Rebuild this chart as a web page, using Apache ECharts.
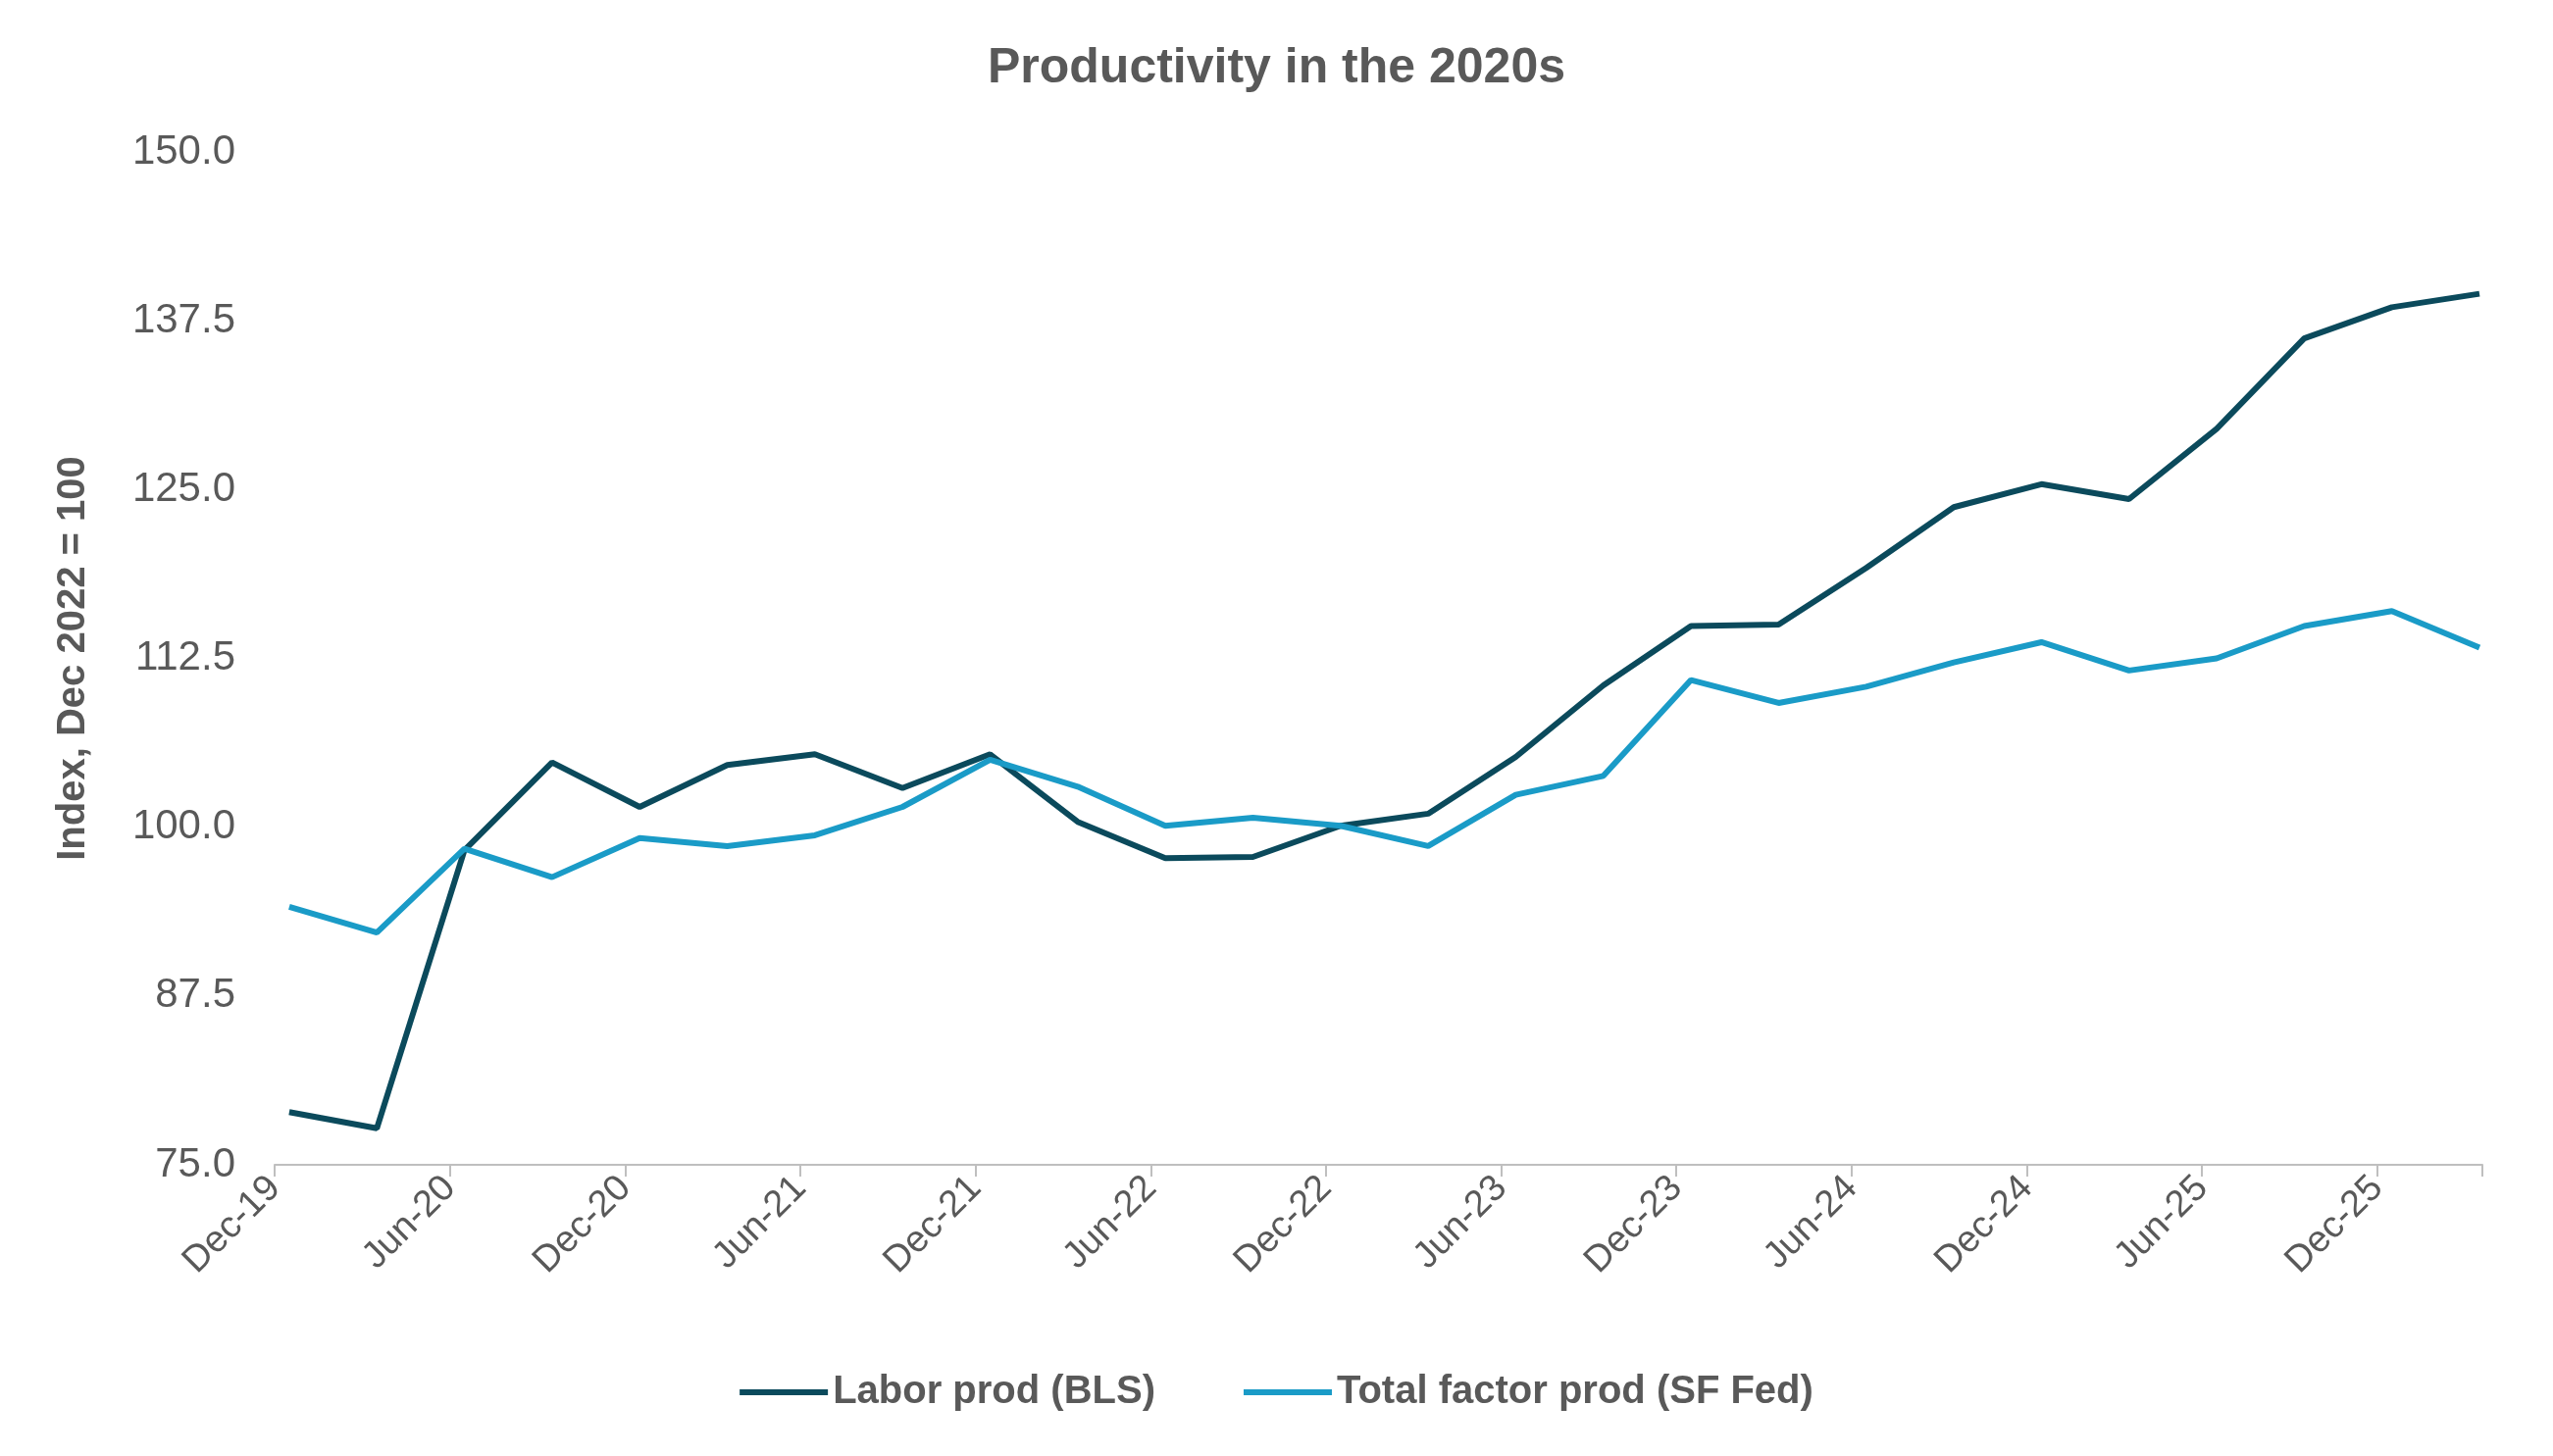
<!DOCTYPE html>
<html><head><meta charset="utf-8">
<script src="https://cdn.jsdelivr.net/npm/echarts@6/dist/echarts.min.js"></script>
<style>html,body{margin:0;padding:0;background:#fff}#main{width:2603px;height:1485px}</style>
</head><body><div id="main"></div>
<script>
// quarterly observations, Q4 2019 .. Q1 2026
var quarters = ['2019Q4','2020Q1','2020Q2','2020Q3','2020Q4','2021Q1','2021Q2','2021Q3','2021Q4','2022Q1','2022Q2','2022Q3','2022Q4',
  '2023Q1','2023Q2','2023Q3','2023Q4','2024Q1','2024Q2','2024Q3','2024Q4','2025Q1','2025Q2','2025Q3','2025Q4','2026Q1'];
var laborProd = [78.9,77.7,98.3,104.8,101.5,104.6,105.4,102.9,105.4,100.4,97.7,97.8,100.1,
  101.0,105.2,110.5,114.9,115.0,119.2,123.7,125.4,124.3,129.5,136.2,138.5,139.5];
var tfpProd = [94.1,92.2,98.4,96.3,99.2,98.6,99.4,101.5,105.0,103.0,100.1,100.7,100.1,
  98.6,102.4,103.8,110.9,109.2,110.4,112.2,113.7,111.6,112.5,114.9,116.0,113.3];
var tickLabels = ['Dec-19','Jun-20','Dec-20','Jun-21','Dec-21','Jun-22','Dec-22','Jun-23','Dec-23','Jun-24','Dec-24','Jun-25','Dec-25'];

// x in months since Dec 2019, points placed mid-month
function toPairs(vals) {
  return vals.map(function (v, i) { return [0.5 + 3 * i, v]; });
}

var grey = '#595959';
var chart = echarts.init(document.getElementById('main'));
chart.setOption({
  animation: false,
  title: {
    text: 'Productivity in the 2020s', left: 'center', top: 40,
    textStyle: {fontFamily: 'Liberation Sans', fontSize: 50, fontWeight: 'bold', color: grey}
  },
  legend: {
    bottom: 40, itemWidth: 90, itemHeight: 6, itemGap: 90,
    icon: 'rect',
    textStyle: {fontFamily: 'Liberation Sans', fontSize: 40, fontWeight: 'bold', color: grey},
    data: ['Labor prod (BLS)', 'Total factor prod (SF Fed)']
  },
  grid: {left: 280, right: 72, top: 155, bottom: 297},
  xAxis: {
    type: 'value', min: 0, max: 75.6, interval: 6,
    splitLine: {show: false},
    axisLine: {lineStyle: {color: '#bfbfbf', width: 2}},
    axisTick: {show: true, length: 12, lineStyle: {color: '#bfbfbf', width: 2}},
    axisLabel: {
      rotate: 45, margin: 18, color: grey, fontFamily: 'Liberation Sans', fontSize: 38,
      formatter: function (v) { var k = Math.round(v / 6); return (Math.abs(v - 6 * k) < 0.01) ? (tickLabels[k] || '') : ''; }
    }
  },
  yAxis: {
    type: 'value', min: 75, max: 150, interval: 12.5,
    name: 'Index, Dec 2022 = 100', nameLocation: 'middle', nameGap: 185,
    nameTextStyle: {fontFamily: 'Liberation Sans', fontSize: 40, fontWeight: 'bold', color: grey},
    splitLine: {show: false},
    axisLine: {show: false}, axisTick: {show: false},
    axisLabel: {color: grey, fontFamily: 'Liberation Sans', fontSize: 42, margin: 40,
      formatter: function (v) { return v.toFixed(1); }}
  },
  series: [
    {name: 'Labor prod (BLS)', type: 'line', data: toPairs(laborProd), showSymbol: false,
      lineStyle: {color: '#0b4a5c', width: 6}, itemStyle: {color: '#0b4a5c'}},
    {name: 'Total factor prod (SF Fed)', type: 'line', data: toPairs(tfpProd), showSymbol: false,
      lineStyle: {color: '#1a9bc7', width: 6}, itemStyle: {color: '#1a9bc7'}}
  ]
});
</script></body></html>
